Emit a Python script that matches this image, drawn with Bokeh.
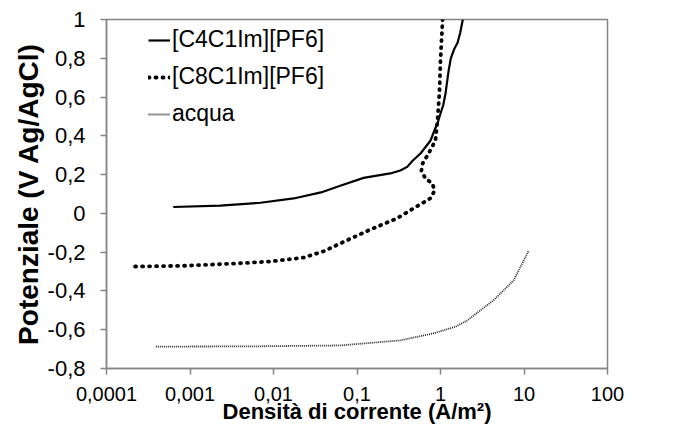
from bokeh.plotting import figure
from bokeh.models import Legend, LegendItem, FixedTicker, Range1d
from bokeh.embed import file_html
from bokeh.resources import INLINE

# ---- data ----
c4_x = [0.00063, 0.0023, 0.007, 0.0174, 0.037, 0.063, 0.12, 0.25, 0.33, 0.40, 0.46, 0.58,
        0.76, 0.85, 0.93, 1.0, 1.08, 1.15, 1.2, 1.25, 1.33, 1.45, 1.6, 1.72, 1.85]
c4_y = [0.033, 0.040, 0.055, 0.077, 0.108, 0.143, 0.183, 0.206, 0.221, 0.24, 0.27, 0.31,
        0.376, 0.43, 0.47, 0.515, 0.56, 0.62, 0.68, 0.735, 0.80, 0.845, 0.88, 0.93, 1.0]

c8_x = [0.00022, 0.0009, 0.0037, 0.0092, 0.023, 0.04, 0.063, 0.145, 0.3, 0.53, 0.76,
        0.85, 0.80, 0.66, 0.59, 0.61, 0.72, 0.87, 0.92, 0.97, 1.0, 1.06]
c8_y = [-0.274, -0.270, -0.258, -0.248, -0.228, -0.195, -0.155, -0.083, -0.026, 0.038, 0.078,
        0.118, 0.154, 0.18, 0.221, 0.257, 0.309, 0.376, 0.48, 0.62, 0.79, 1.0]

aq_x = [0.00039, 0.0053, 0.063, 0.33, 0.82, 1.5, 2.1, 3.0, 4.3, 7.5, 11.3]
aq_y = [-0.687, -0.686, -0.681, -0.655, -0.619, -0.585, -0.552, -0.50, -0.449, -0.346, -0.195]

x_ticks = [0.0001, 0.001, 0.01, 0.1, 1, 10, 100]
x_tick_labels = ["0,0001", "0,001", "0,01", "0,1", "1", "10", "100"]
y_ticks = [-0.8, -0.6, -0.4, -0.2, 0, 0.2, 0.4, 0.6, 0.8, 1]
y_tick_labels = ["-0,8", "-0,6", "-0,4", "-0,2", "0", "0,2", "0,4", "0,6", "0,8", "1"]

series_names = ["[C4C1Im][PF6]", "[C8C1Im][PF6]", "acqua"]

FONT = "Liberation Sans"
AXIS_GRAY = "#858585"

p = figure(width=680, height=430, x_axis_type="log",
           x_range=Range1d(1e-4, 100), y_range=Range1d(-0.8, 1),
           output_backend="svg", toolbar_location=None,
           min_border_left=106, min_border_right=73, min_border_top=19, min_border_bottom=62)

p.xgrid.visible = False
p.ygrid.visible = False
p.outline_line_color = AXIS_GRAY
p.outline_line_width = 1.5
p.background_fill_color = "white"
p.border_fill_color = "white"

r1 = p.line(c4_x, c4_y, line_color="black", line_width=2.2, line_join="round")
r2 = p.line(c8_x, c8_y, line_color="black", line_width=3.8, line_dash="1 6", line_cap="round")
r3 = p.line(aq_x, aq_y, line_color="#2a2a2a", line_width=1.8, line_dash="1 1")

# axes
p.xaxis.ticker = FixedTicker(ticks=x_ticks)
p.xaxis.major_label_overrides = dict(zip(x_ticks, x_tick_labels))
p.yaxis.ticker = FixedTicker(ticks=y_ticks)
p.yaxis.major_label_overrides = dict(zip(y_ticks, y_tick_labels))

for ax in (p.xaxis[0], p.yaxis[0]):
    ax.axis_line_color = AXIS_GRAY
    ax.axis_line_width = 1.5
    ax.major_tick_line_color = AXIS_GRAY
    ax.major_tick_line_width = 1.5
    ax.major_tick_in = 0
    ax.major_tick_out = 6
    ax.minor_tick_line_color = None
    ax.major_label_text_font = FONT
    ax.major_label_text_color = "black"
    ax.axis_label_text_font = FONT
    ax.axis_label_text_font_style = "bold"
    ax.axis_label_text_color = "black"

p.xaxis.major_label_text_font_size = "20px"
p.yaxis.major_label_text_font_size = "22px"
p.xaxis.major_label_standoff = 12
p.yaxis.major_label_standoff = 15
p.xaxis.axis_label = "Densità di corrente (A/m²)"
p.yaxis.axis_label = "Potenziale (V Ag/AgCl)"
p.xaxis.axis_label_text_font_size = "22px"
p.yaxis.axis_label_text_font_size = "28px"
p.xaxis.axis_label_standoff = -5
p.yaxis.axis_label_standoff = 1

legend = Legend(items=[LegendItem(label=series_names[0], renderers=[r1]),
                       LegendItem(label=series_names[1], renderers=[r2]),
                       LegendItem(label=series_names[2], renderers=[r3])],
                location=(42, 241), border_line_color=None, background_fill_alpha=0,
                padding=0, margin=0, spacing=10, glyph_width=22, glyph_height=20,
                label_height=20, label_standoff=2,
                label_text_font=FONT, label_text_font_size="23px", label_text_color="black")
p.add_layout(legend)

open("out.html", "w").write(file_html(p, INLINE))
